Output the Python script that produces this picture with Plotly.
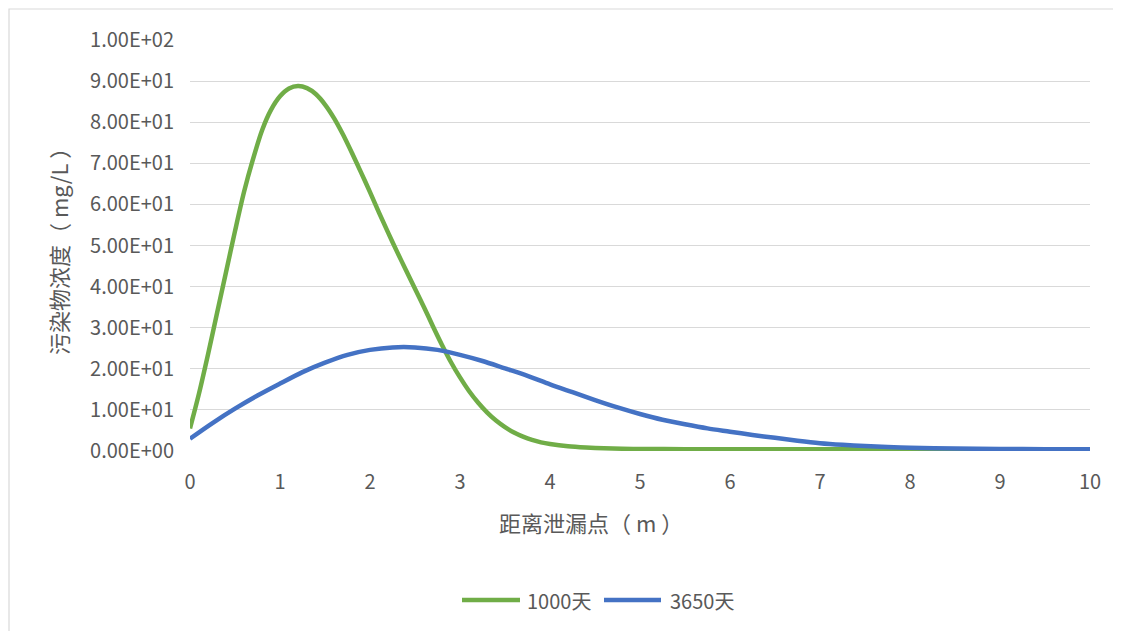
import plotly.graph_objects as go

# distance from leak point (m)
x_green = [0, 0.1, 0.2, 0.3, 0.4, 0.5, 0.6, 0.7, 0.8, 0.9, 1.0, 1.1, 1.2, 1.3, 1.4, 1.5,
           1.6, 1.7, 1.8, 1.9, 2.0, 2.1, 2.2, 2.3, 2.4, 2.5, 2.6, 2.7, 2.8, 2.9, 3.0,
           3.1, 3.2, 3.3, 3.4, 3.5, 3.6, 3.7, 3.8, 3.9, 4.0, 4.2, 4.4, 4.6, 4.8, 5.0,
           5.5, 6.0, 7.0, 8.0, 9.0, 10.0]
y_1000 = [5.5, 14, 23.5, 33.5, 43.5, 53.5, 63, 71, 78, 83, 86.3, 88.2, 88.8, 88.3, 86.8, 84.3,
          81, 77, 72.5, 67.8, 63, 58, 53.2, 48.5, 44, 39.5, 35, 30.3, 25.8, 21.6, 17.9,
          14.6, 11.8, 9.4, 7.4, 5.8, 4.5, 3.5, 2.7, 2.1, 1.7, 1.15, 0.85, 0.65, 0.55, 0.5,
          0.45, 0.45, 0.4, 0.4, 0.4, 0.4]

x_blue = [0, 0.25, 0.5, 0.75, 1.0, 1.25, 1.5, 1.75, 2.0, 2.25, 2.5, 2.75, 3.0, 3.25, 3.5,
          3.75, 4.0, 4.25, 4.5, 4.75, 5.0, 5.25, 5.5, 5.75, 6.0, 6.25, 6.5, 6.75, 7.0,
          7.25, 7.5, 7.75, 8.0, 8.5, 9.0, 9.5, 10.0]
y_3650 = [3.0, 6.8, 10.3, 13.5, 16.4, 19.2, 21.5, 23.4, 24.6, 25.2, 25.2, 24.6, 23.4, 21.9, 20.1,
          18.3, 16.2, 14.3, 12.4, 10.6, 9.0, 7.6, 6.5, 5.5, 4.7, 3.9, 3.2, 2.5, 1.9,
          1.5, 1.2, 1.0, 0.8, 0.6, 0.5, 0.45, 0.4]

series_names = ["1000天", "3650天"]
series_colors = ["#70ad47", "#4472c4"]
y_tickvals = [0, 10, 20, 30, 40, 50, 60, 70, 80, 90, 100]
y_ticktext = ["0.00E+00", "1.00E+01", "2.00E+01", "3.00E+01", "4.00E+01", "5.00E+01",
              "6.00E+01", "7.00E+01", "8.00E+01", "9.00E+01", "1.00E+02"]
x_tickvals = [0, 1, 2, 3, 4, 5, 6, 7, 8, 9, 10]
x_title = "距离泄漏点（ m ）"
y_title = "污染物浓度（ mg/L ）"

FONT = "Noto Sans CJK SC"
GRAY = "#595959"
GRID = "#d9d9d9"

# pixel helpers relative to the plot area (900 x 411 px, left 190, bottom 451 in page px)
def px_x(p):
    return (p - 190) / 900.0

def px_y(p):
    return (451 - p) / 411.0

fig = go.Figure()
fig.add_trace(go.Scatter(x=x_green, y=y_1000, mode="lines", name=series_names[0],
                         line=dict(color=series_colors[0], width=4.5, shape="spline", smoothing=0.8),
                         showlegend=False))
fig.add_trace(go.Scatter(x=x_blue, y=y_3650, mode="lines", name=series_names[1],
                         line=dict(color=series_colors[1], width=4.5, shape="spline", smoothing=0.8),
                         showlegend=False))

legend_items = [(462, 520, 525), (604, 661, 668)]
shapes = [
    dict(type="rect", xref="paper", yref="paper", x0=px_x(9), x1=px_x(1118),
         y0=px_y(640), y1=px_y(9), line=dict(color=GRID, width=1.2), layer="below"),
]
annotations = [
    dict(text=x_title, xref="paper", yref="paper", x=px_x(591), y=px_y(522),
         xanchor="center", yanchor="middle", showarrow=False,
         font=dict(size=22, color=GRAY, family=FONT)),
    dict(text=y_title, xref="paper", yref="paper", x=px_x(58), y=px_y(246),
         xanchor="center", yanchor="middle", showarrow=False, textangle=-90,
         font=dict(size=22, color=GRAY, family=FONT)),
]
for (l0, l1, tx), name, col in zip(legend_items, series_names, series_colors):
    shapes.append(dict(type="line", xref="paper", yref="paper", x0=px_x(l0), x1=px_x(l1),
                       y0=px_y(600), y1=px_y(600), line=dict(color=col, width=4.5)))
    annotations.append(dict(text=name, xref="paper", yref="paper", x=px_x(tx), y=px_y(600),
                            xanchor="left", yanchor="middle", showarrow=False,
                            font=dict(size=20, color=GRAY, family=FONT)))

fig.update_layout(
    width=1113, height=623,
    margin=dict(l=182, r=31, t=32, b=180),
    paper_bgcolor="white", plot_bgcolor="white",
    font=dict(family=FONT, color=GRAY, size=20),
    showlegend=False,
    xaxis=dict(range=[0, 10], tickvals=x_tickvals, showgrid=False, zeroline=False,
               showline=False, ticks="", ticklabelstandoff=17,
               tickfont=dict(size=20, color=GRAY, family=FONT)),
    yaxis=dict(range=[0, 100], tickvals=y_tickvals, ticktext=y_ticktext, showgrid=True,
               gridcolor=GRID, gridwidth=1.2, zeroline=False, showline=False, ticks="",
               ticklabelstandoff=15, tickfont=dict(size=20, color=GRAY, family=FONT)),
    annotations=annotations,
    shapes=shapes,
)

fig.write_html("out.html")
